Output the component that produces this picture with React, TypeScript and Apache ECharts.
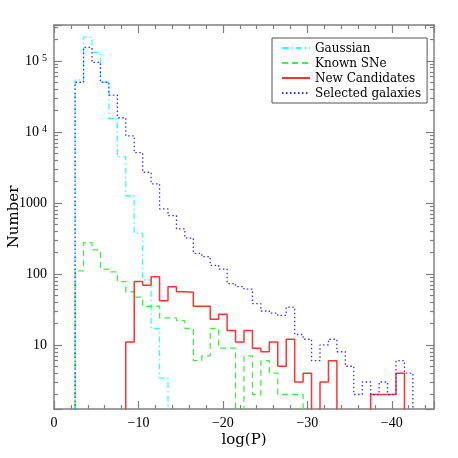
import React, { useEffect, useRef } from 'react';
import * as echarts from 'echarts';

// Legend order / series names
const seriesNames = ['Gaussian', 'Known SNe', 'New Candidates', 'Selected galaxies'];

// Histograms: bins are 1 unit wide in log(P). "FirstBin" is the centre of the first bin,
// following bins step toward more negative log(P).
const gaussianFirstBin = -3;
const gaussianCounts = [54000, 216000, 132000, 50000, 15500, 4450, 1260, 372, 82, 17, 3.4];

const knownFirstBin = -3;
const knownCounts = [110, 276, 218, 117, 107, 78, 56, 47, 35, 35, 24, 24, 22, 17, 6, 7, 17, 9, 9, 0, 7, 2, 6, 4, 2, 2, 2];

const newFirstBin = -9;
const newCounts = [11, 78, 69, 91, 42, 66, 56, 55, 35, 35, 23, 27, 16, 11, 16, 9, 8, 11, 5, 12, 3, 4, 0, 3, 6, 0, 0, 0, 0, 2, 2, 2, 4];

const galaxyFirstBin = -3;
const galaxyCounts = [50000, 155000, 95000, 50000, 33000, 15800, 8800, 5100, 2700, 1850, 822, 662, 430, 318, 195, 175, 132, 117, 73, 66, 61, 38, 30, 28, 26, 34, 14, 12, 6, 10, 12, 8, 5, 2, 3, 2, 3, 2, 6, 4];

// Axis ranges (x is plotted as -log(P), labelled with a minus sign)
const xRange = [0, 45];
const yRange = [1.25, 320000];

const FONT = 'DejaVu Serif';
const TICK_FONT = 'Liberation Serif';
const AXIS_COLOR = '#808080';
const FLOOR = 0.01;

function steps(first: number, counts: number[]) {
  const pts: number[][] = [];
  const x0 = -first - 0.5;
  pts.push([x0, FLOOR]);
  counts.forEach((c, i) => {
    const v = c > 0 ? c : FLOOR;
    pts.push([x0 + i, v], [x0 + i + 1, v]);
  });
  pts.push([x0 + counts.length, FLOOR]);
  return pts;
}

function xLabel(v: number) {
  if (Math.abs(v % 10) > 1e-9) return '';
  return v === 0 ? '0' : '\u2212' + v;
}

function yLabel(v: number) {
  const l = Math.log10(v);
  const e = Math.round(l);
  if (Math.abs(l - e) > 1e-6) return '';
  if (e <= 3) return '{b|' + String(Math.pow(10, e)) + '}';
  return '{b|10}{s|' + e + '}';
}

const tickCommon = {
  axisLine: { show: true, onZero: false, lineStyle: { color: AXIS_COLOR, width: 1.5 } },
  axisTick: { show: true, inside: true, length: 8, lineStyle: { color: AXIS_COLOR, width: 1.2 } },
  splitLine: { show: false },
};

export default function App() {
  const ref = useRef<HTMLDivElement>(null);
  useEffect(() => {
    if (!ref.current) return;
    const chart = echarts.init(ref.current, undefined, { renderer: 'svg' });
    const xAxisBase = {
      type: 'value',
      min: xRange[0],
      max: xRange[1],
      interval: 10,
      ...tickCommon,
      minorTick: { show: true, splitNumber: 5, length: 4, lineStyle: { color: AXIS_COLOR, width: 1.2 } },
    };
    const yAxisBase = {
      type: 'log',
      logBase: 10,
      min: yRange[0],
      max: yRange[1],
      ...tickCommon,
      minorTick: { show: true, splitNumber: 9, length: 4, lineStyle: { color: AXIS_COLOR, width: 1.2 } },
    };
    const styles = [
      { color: '#33ffff', type: [6, 3, 1.5, 3], width: 1.3 },
      { color: '#44ee44', type: [6, 4], width: 1.3 },
      { color: '#ff3333', type: 'solid', width: 1.5 },
      { color: '#3333ff', type: [1.5, 2.5], width: 1.3 },
    ];
    const datas = [
      steps(gaussianFirstBin, gaussianCounts),
      steps(knownFirstBin, knownCounts),
      steps(newFirstBin, newCounts),
      steps(galaxyFirstBin, galaxyCounts),
    ];
    chart.setOption({
      animation: false,
      grid: { left: 54, right: 24, top: 25, bottom: 49, containLabel: false, outerBoundsMode: 'none' },
      xAxis: [
        {
          ...xAxisBase,
          position: 'bottom',
          axisLabel: { formatter: xLabel, margin: 6, color: '#000', fontFamily: TICK_FONT, fontSize: 14 },
          name: 'log(P)',
          nameLocation: 'middle',
          nameGap: 22,
          nameMoveOverlap: false,
          nameTextStyle: { fontFamily: FONT, fontSize: 15, color: '#000' },
        },
        { ...xAxisBase, position: 'top', axisLabel: { show: false } },
      ],
      yAxis: [
        {
          ...yAxisBase,
          position: 'left',
          axisLabel: {
            formatter: yLabel,
            margin: 7,
            color: '#000',
            rich: {
              b: { fontFamily: TICK_FONT, fontSize: 14, color: '#000', lineHeight: 16 },
              s: { fontFamily: TICK_FONT, fontSize: 10, color: '#000', verticalAlign: 'top', lineHeight: 10, padding: [0, 0, 0, 3] },
            },
          },
          name: 'Number',
          nameLocation: 'middle',
          nameGap: 34,
          nameMoveOverlap: false,
          nameRotate: 90,
          nameTextStyle: { fontFamily: FONT, fontSize: 15, color: '#000' },
        },
        { ...yAxisBase, position: 'right', axisLabel: { show: false } },
      ],
      legend: {
        orient: 'vertical',
        left: 272,
        top: 38,
        itemWidth: 28,
        itemHeight: 8,
        itemGap: 3,
        padding: [4, 6, 4, 9],
        borderColor: '#555',
        borderWidth: 1,
        backgroundColor: '#fff',
        itemStyle: { opacity: 0 },
        textStyle: { fontFamily: FONT, fontSize: 12, color: '#000' },
        data: seriesNames,
      },
      series: seriesNames.map((name, i) => ({
        name,
        type: 'line',
        data: datas[i],
        symbol: 'none',
        showSymbol: false,
        clip: true,
        lineStyle: styles[i],
        itemStyle: { color: styles[i].color },
        z: 2 + i,
      })),
    });
    return () => chart.dispose();
  }, []);
  return <div ref={ref} style={{ position: 'fixed', left: 0, top: 0, width: 458, height: 458 }} />;
}
